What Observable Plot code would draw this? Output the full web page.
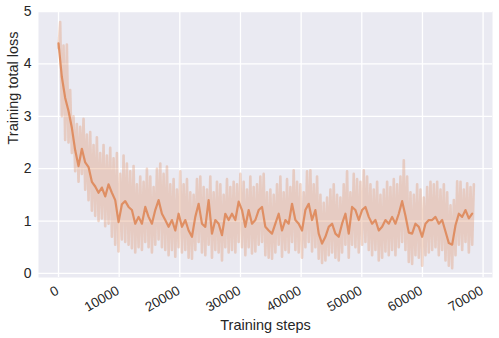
<!DOCTYPE html>
<html>
<head>
<meta charset="utf-8">
<script src="https://cdn.jsdelivr.net/npm/d3@7"></script>
<script src="https://cdn.jsdelivr.net/npm/@observablehq/plot@0.6"></script>
<style>
  html, body { margin: 0; padding: 0; background: #fff; }
</style>
</head>
<body>
<div id="chart"></div>
<script>
// Logging interval (training steps between successive logged values)
const logInterval = 550;

// Smoothed training loss (one value per logged step)
const smoothLoss = [
  4.39,3.75,3.35,3.10,2.78,2.35,2.05,2.38,2.12,2.03,
  1.75,1.66,1.54,1.64,1.47,1.70,1.54,1.40,0.98,1.32,
  1.38,1.27,1.21,0.95,1.08,0.95,1.27,1.08,0.95,1.21,
  1.40,1.14,1.02,0.89,1.02,0.82,1.14,0.89,1.02,0.82,
  0.70,1.08,1.33,0.95,0.89,1.40,0.76,1.02,0.95,0.73,
  1.14,1.02,1.14,1.02,1.37,1.21,0.89,1.21,0.95,1.02,
  1.21,1.27,0.89,0.82,0.76,0.95,1.14,0.82,1.02,0.95,
  1.33,1.02,0.95,0.82,1.21,1.33,1.02,1.21,0.76,0.57,
  0.70,0.89,0.95,0.76,0.70,0.95,1.14,0.76,1.27,1.21,
  1.02,1.21,1.27,1.08,0.95,1.02,0.82,0.89,1.02,0.95,
  1.08,0.95,1.14,1.38,1.10,0.78,0.76,0.95,0.89,0.70,
  0.95,1.02,1.02,1.08,0.95,1.02,0.80,0.58,0.55,0.92,
  1.14,1.08,1.21,1.05,1.14
];

// Raw (unsmoothed) loss: low and high swings of the noisy curve
const rawLow = [
  4.30,3.00,2.55,2.50,2.30,1.95,1.75,1.90,1.60,1.40,
  1.20,1.10,1.00,1.05,0.90,0.95,0.70,0.55,0.42,0.65,
  0.60,0.55,0.48,0.40,0.50,0.45,0.60,0.50,0.40,0.55,
  0.65,0.50,0.45,0.35,0.45,0.32,0.50,0.40,0.45,0.30,
  0.28,0.45,0.60,0.40,0.35,0.55,0.30,0.45,0.40,0.25,
  0.50,0.40,0.45,0.40,0.60,0.50,0.35,0.50,0.38,0.42,
  0.55,0.60,0.35,0.30,0.28,0.40,0.55,0.32,0.45,0.40,
  0.60,0.45,0.40,0.30,0.50,0.60,0.42,0.50,0.28,0.20,
  0.25,0.35,0.40,0.30,0.25,0.40,0.55,0.30,0.55,0.50,
  0.40,0.55,0.60,0.45,0.35,0.45,0.25,0.30,0.42,0.35,
  0.45,0.35,0.50,0.60,0.45,0.22,0.18,0.35,0.30,0.15,
  0.35,0.40,0.45,0.50,0.35,0.45,0.25,0.15,0.10,0.35,
  0.55,0.45,0.60,0.40,0.55
];
const rawHigh = [
  4.80,4.35,4.37,3.50,3.00,2.85,2.80,2.95,2.65,2.70,
  2.45,2.60,2.30,2.45,2.25,2.40,2.20,2.30,1.90,2.25,
  2.10,1.95,2.05,1.70,1.85,1.75,2.00,1.85,1.65,2.00,
  2.10,1.90,2.04,1.70,1.80,1.60,1.95,1.70,1.80,1.55,
  1.50,1.80,1.85,1.65,1.60,1.85,1.55,1.75,1.70,1.50,
  1.80,1.65,1.75,1.70,1.90,1.75,1.60,1.85,1.65,1.70,
  1.85,1.90,1.55,1.60,1.50,1.70,1.85,1.55,1.80,1.65,
  1.97,1.75,1.70,1.55,1.95,1.97,1.70,1.85,1.50,1.35,
  1.45,1.60,1.70,1.50,1.45,1.70,1.95,1.55,1.90,1.80,
  1.75,1.97,1.85,1.70,1.60,1.75,1.50,1.60,1.75,1.65,
  1.80,1.70,1.85,2.16,1.85,1.55,1.50,1.70,1.60,1.45,
  1.65,1.75,1.70,1.75,1.60,1.70,1.55,1.30,1.40,1.76,
  1.75,1.60,1.72,1.65,1.70
];

const xTicks = [0, 10000, 20000, 30000, 40000, 50000, 60000, 70000];
const yTicks = [0, 1, 2, 3, 4, 5];

// Tables built from the arrays
const smooth = smoothLoss.map((v, i) => ({step: i * logInterval, loss: v}));
const raw = [];
rawLow.forEach((v, i) => {
  raw.push({step: i * logInterval, loss: v});
  raw.push({step: i * logInterval + logInterval / 2, loss: rawHigh[i]});
});

const color = "#DD8452";
const textColor = "#262626";

const chart = Plot.plot({
  width: 499,
  height: 338,
  marginLeft: 38,
  marginRight: 7,
  marginTop: 11,
  marginBottom: 61,
  style: {background: "#ffffff", fontFamily: "'Liberation Sans', Arial, sans-serif", fontSize: "14px", color: textColor},
  x: {domain: [-3300, 71550], axis: null},
  y: {domain: [-0.077, 5]},
  marks: [
    Plot.frame({fill: "#EAEAF2", stroke: "none"}),
    Plot.gridX(xTicks, {stroke: "#ffffff", strokeOpacity: 1, strokeWidth: 1.3}),
    Plot.gridY(yTicks, {stroke: "#ffffff", strokeOpacity: 1, strokeWidth: 1.3}),
    Plot.line(raw, {x: "step", y: "loss", stroke: color, strokeOpacity: 0.3, strokeWidth: 2.6}),
    Plot.line(smooth, {x: "step", y: "loss", stroke: color, strokeOpacity: 0.85, strokeWidth: 2.2}),
    // x tick labels, rotated, right end at the tick
    Plot.text(xTicks, {x: d => d, frameAnchor: "bottom", dy: 12, dx: -1, rotate: -30, textAnchor: "end", lineAnchor: "middle", text: d => String(d), fontSize: 13.5, fill: textColor}),
    Plot.axisY(yTicks, {tickSize: 0, tickPadding: 7, label: null, fontSize: 14, fill: textColor, tickFormat: d => String(d)}),
    Plot.text(["Training steps"], {frameAnchor: "bottom", dy: 48, lineAnchor: "middle", fontSize: 14.5, fill: textColor}),
    Plot.text(["Training total loss"], {frameAnchor: "left", dx: -25, rotate: -90, lineAnchor: "middle", fontSize: 14.5, fill: textColor})
  ]
});
document.getElementById("chart").appendChild(chart);
</script>
</body>
</html>
